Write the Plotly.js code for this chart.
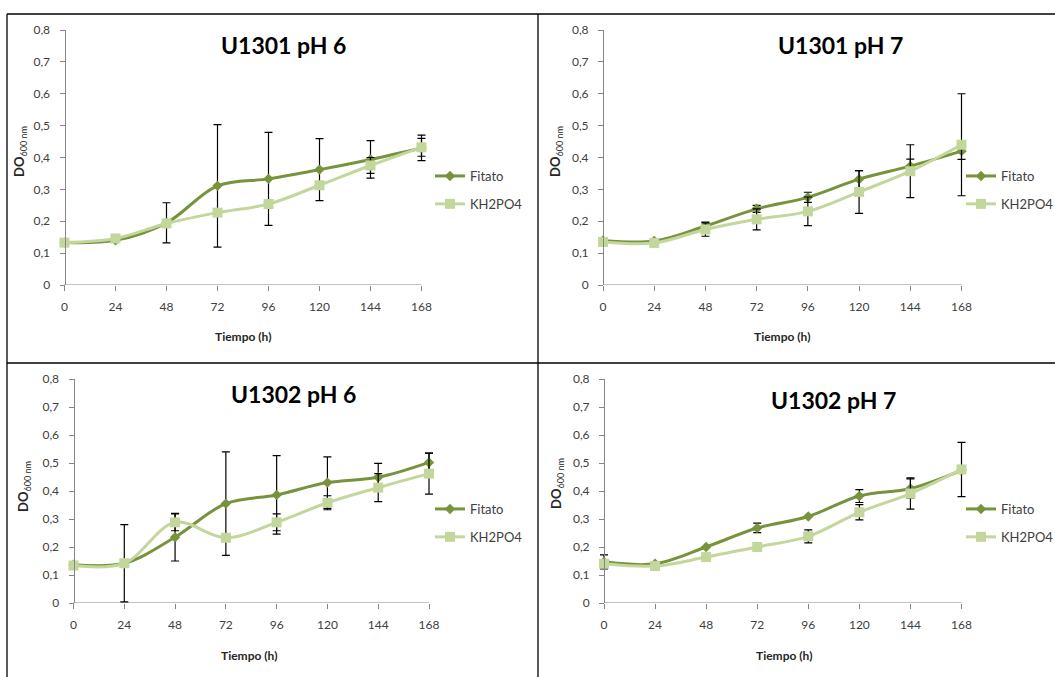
<!DOCTYPE html>
<html>
<head>
<meta charset="utf-8">
<script src="https://cdn.plot.ly/plotly-3.0.1.min.js"></script>
<style>
  html, body { margin: 0; padding: 0; background: #ffffff; }
  #chart { width: 1055px; height: 677px; }
</style>
</head>
<body>
<div id="chart"></div>
<script>
// Sampling times (h) and axis labels
const hours = [0, 24, 48, 72, 96, 120, 144, 168];
const xTickText = ['0', '24', '48', '72', '96', '120', '144', '168'];
const yTickVals = [0, 0.1, 0.2, 0.3, 0.4, 0.5, 0.6, 0.7, 0.8];
const yTickText = ['0', '0,1', '0,2', '0,3', '0,4', '0,5', '0,6', '0,7', '0,8'];
const seriesNames = ['Fitato', 'KH2PO4'];
const panelTitles = ['U1301 pH 6', 'U1301 pH 7', 'U1302 pH 6', 'U1302 pH 7'];
const xTitle = 'Tiempo (h)';
const yTitle = '<b>DO</b><sub>600 nm</sub>';

// DO600 means (null = no error bar)
const u1301ph6Fitato    = [0.133, 0.140, 0.195, 0.311, 0.333, 0.362, 0.394, 0.430];
const u1301ph6FitatoErr = [null, null, 0.063, 0.192, 0.146, 0.097, 0.059, 0.040];
const u1301ph6KH        = [0.133, 0.146, 0.193, 0.227, 0.254, 0.313, 0.375, 0.432];
const u1301ph6KHErr     = [null, null, null, null, null, null, 0.025, 0.028];

const u1301ph7Fitato    = [0.140, 0.138, 0.185, 0.239, 0.275, 0.332, 0.373, 0.420];
const u1301ph7FitatoErr = [null, null, 0.012, 0.011, 0.016, 0.027, 0.022, 0.026];
const u1301ph7KH        = [0.135, 0.132, 0.174, 0.206, 0.231, 0.292, 0.357, 0.440];
const u1301ph7KHErr     = [null, null, 0.021, 0.033, 0.045, 0.067, 0.083, 0.160];

const u1302ph6Fitato    = [0.137, 0.142, 0.235, 0.355, 0.386, 0.430, 0.449, 0.502];
const u1302ph6FitatoErr = [null, 0.138, 0.085, 0.185, 0.140, 0.092, 0.050, 0.033];
const u1302ph6KH        = [0.134, 0.142, 0.288, 0.233, 0.288, 0.358, 0.412, 0.462];
const u1302ph6KHErr     = [null, null, 0.030, null, 0.030, 0.025, 0.050, 0.073];

const u1302ph7Fitato    = [0.147, 0.140, 0.200, 0.268, 0.309, 0.382, 0.409, 0.474];
const u1302ph7FitatoErr = [0.025, null, null, 0.017, null, 0.023, 0.034, null];
const u1302ph7KH        = [0.140, 0.132, 0.164, 0.200, 0.238, 0.324, 0.391, 0.477];
const u1302ph7KHErr     = [null, null, null, null, 0.023, 0.027, 0.056, 0.097];

const panelData = [
  [u1301ph6Fitato, u1301ph6FitatoErr, u1301ph6KH, u1301ph6KHErr],
  [u1301ph7Fitato, u1301ph7FitatoErr, u1301ph7KH, u1301ph7KHErr],
  [u1302ph6Fitato, u1302ph6FitatoErr, u1302ph6KH, u1302ph6KHErr],
  [u1302ph7Fitato, u1302ph7FitatoErr, u1302ph7KH, u1302ph7KHErr]
];

// Page geometry (pixels)
const W = 1055, H = 677;
const px = x => x / W;
const py = y => 1 - y / H;
const PAD = 6; // spare room around the time axis so end caps are not cut

const panels = [
  { x0: 64.5, x1: 421.5, yBot: 285, yTop: 30,  title: [283, 45],  xt: [243, 336], yt: [20, 152],  leg: [430, 161] },
  { x0: 603,  x1: 961.5, yBot: 285, yTop: 30,  title: [840, 45],  xt: [782, 336], yt: [556, 152], leg: [961, 161] },
  { x0: 73.5, x1: 429,   yBot: 603, yTop: 379, title: [293, 394], xt: [249, 655], yt: [24, 487],  leg: [430, 494] },
  { x0: 604,  x1: 961.5, yBot: 603, yTop: 379, title: [833, 400], xt: [784, 655], yt: [557, 484], leg: [961, 494] }
];

const fitatoColor = '#77933C';
const khColor = '#C3D69B';
const axisGrey = '#868686';
const font = 'Lato, "Open Sans", sans-serif';
const toErr = arr => arr.map(v => (v === null ? NaN : v));

const traces = [];
const layout = {
  width: W, height: H,
  margin: { l: 0, r: 0, t: 0, b: 0, autoexpand: false },
  paper_bgcolor: '#ffffff',
  plot_bgcolor: 'rgba(0,0,0,0)',
  font: { family: font, color: '#404040', size: 12 },
  showlegend: true,
  annotations: [],
  shapes: []
};

panels.forEach((p, i) => {
  const n = i === 0 ? '' : String(i + 1);
  const xa = 'x' + n, ya = 'y' + n;
  const legName = 'legend' + n;
  const [fit, fitErr, kh, khErr] = panelData[i];
  const tMin = hours[0], tMax = hours[hours.length - 1];
  const hPerPx = (tMax - tMin) / (p.x1 - p.x0);

  traces.push({
    x: hours, y: fit, xaxis: xa, yaxis: ya, name: seriesNames[0],
    type: 'scatter', mode: 'lines+markers', legend: legName, legendgroup: 'f' + i,
    cliponaxis: false,
    line: { color: fitatoColor, width: 3, shape: 'spline', smoothing: 1 },
    marker: { symbol: 'diamond', size: 8, color: fitatoColor },
    error_y: { type: 'data', array: toErr(fitErr), visible: true, color: '#000000', thickness: 1.2, width: 4 },
    hoverinfo: 'skip'
  });
  traces.push({
    x: hours, y: kh, xaxis: xa, yaxis: ya, name: seriesNames[1],
    type: 'scatter', mode: 'lines+markers', legend: legName, legendgroup: 'k' + i,
    cliponaxis: false,
    line: { color: khColor, width: 3, shape: 'spline', smoothing: 1 },
    marker: { symbol: 'square', size: 10, color: khColor },
    error_y: { type: 'data', array: toErr(khErr), visible: true, color: '#000000', thickness: 1.2, width: 4 },
    hoverinfo: 'skip'
  });

  layout['xaxis' + n] = {
    domain: [px(p.x0 - PAD), px(p.x1 + PAD)], anchor: ya,
    range: [tMin - PAD * hPerPx, tMax + PAD * hPerPx],
    tickvals: hours, ticktext: xTickText,
    showline: false,
    ticks: 'outside', ticklen: 5, tickcolor: axisGrey, tickwidth: 1,
    ticklabelstandoff: 6,
    showgrid: false, zeroline: false, fixedrange: true, automargin: false,
    tickfont: { family: font, size: 12, color: '#404040' }
  };
  layout['yaxis' + n] = {
    domain: [py(p.yBot), py(p.yTop)], anchor: 'free', position: px(p.x0),
    range: [0, 0.8],
    tickvals: yTickVals, ticktext: yTickText,
    showline: true, linecolor: axisGrey, linewidth: 1,
    ticks: 'outside', ticklen: 5, tickcolor: axisGrey, tickwidth: 1,
    ticklabelstandoff: 7,
    showgrid: false, zeroline: false, fixedrange: true, automargin: false,
    tickfont: { family: font, size: 12, color: '#404040' }
  };
  // time axis baseline, spanning the first to the last sampling time
  layout.shapes.push({
    type: 'line', xref: xa, yref: ya, x0: tMin, x1: tMax, y0: 0, y1: 0,
    line: { color: axisGrey, width: 1 }, layer: 'below'
  });
  layout[legName] = {
    x: px(p.leg[0]), y: py(p.leg[1]), xanchor: 'left', yanchor: 'top',
    bgcolor: 'rgba(0,0,0,0)', borderwidth: 0,
    tracegroupgap: 8, traceorder: 'grouped',
    font: { family: font, size: 13, color: '#404040' }
  };

  layout.annotations.push({
    text: '<b>' + panelTitles[i] + '</b>', x: px(p.title[0]), y: py(p.title[1]),
    xref: 'paper', yref: 'paper', xanchor: 'center', yanchor: 'middle', showarrow: false,
    font: { family: font, size: 23, color: '#000000' }
  });
  layout.annotations.push({
    text: '<b>' + xTitle + '</b>', x: px(p.xt[0]), y: py(p.xt[1]),
    xref: 'paper', yref: 'paper', xanchor: 'center', yanchor: 'middle', showarrow: false,
    font: { family: font, size: 12, color: '#262626' }
  });
  layout.annotations.push({
    text: yTitle, x: px(p.yt[0]), y: py(p.yt[1]), textangle: -90,
    xref: 'paper', yref: 'paper', xanchor: 'center', yanchor: 'middle', showarrow: false,
    font: { family: font, size: 13, color: '#262626' }
  });
});

// Frame lines separating the four charts
const frame = [
  [7, 14, 1055, 14],
  [7, 14, 7, 677],
  [538, 14, 538, 677],
  [7, 363, 1055, 363]
];
frame.forEach(f => layout.shapes.push({
  type: 'line', xref: 'paper', yref: 'paper',
  x0: px(f[0]), y0: py(f[1]), x1: px(f[2]), y1: py(f[3]),
  line: { color: '#000000', width: 1.3 }
}));

Plotly.newPlot('chart', traces, layout, { displayModeBar: false, staticPlot: true });
</script>
</body>
</html>
